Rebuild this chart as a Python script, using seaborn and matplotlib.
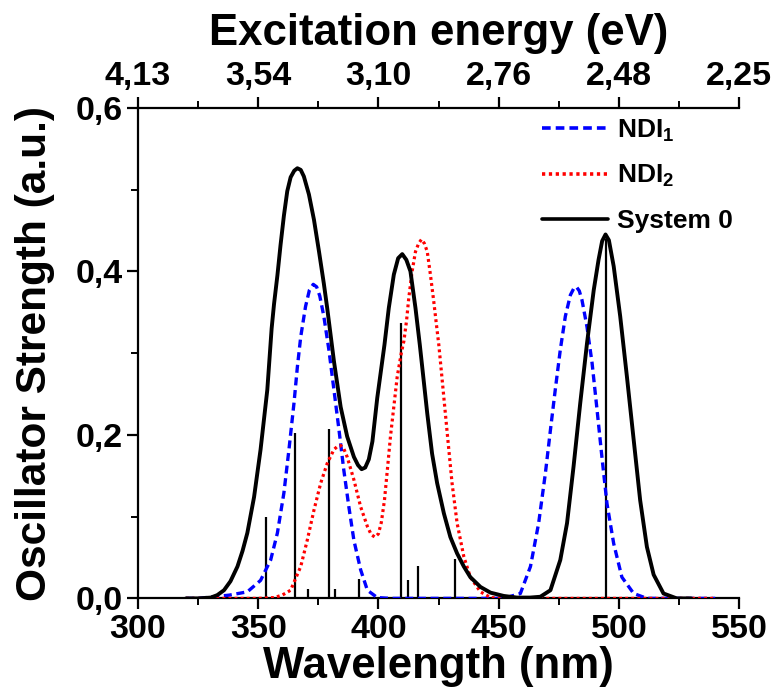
import matplotlib
matplotlib.use("Agg")
import matplotlib.pyplot as plt
import seaborn as sns
import pandas as pd
from matplotlib.ticker import MultipleLocator

# ---------------- data ----------------
sys0_wl = [320, 325, 330.3, 333.0, 335.8, 338.5, 341.4, 343.5, 345.5, 348.3, 351.0,
           353.8, 355.6, 356.6, 358.0, 359.3, 360.7, 362.1, 363.5, 365.0, 366.3,
           367.7, 369.0, 371.1, 373.2, 375.3, 377.3, 378.7, 381.5, 384.3,
           387.0, 389.8, 391.5, 393.0, 394.5, 396.0, 397.5, 399.5, 402.5, 404.3,
           406.4, 408.2, 409.9, 411.6, 413.3, 415.4, 417.2, 418.2, 420.3, 422.3,
           424.4, 427.2, 429.9, 432.7, 435.5, 438.2, 442.4, 446.6, 452.1, 457.6,
           463.0, 467.3, 471.5, 475.6, 478.4, 481.1, 483.9, 486.7, 489.5, 491.5,
           493.0, 494.4, 495.8, 497.8, 500.5, 503.3, 506.1, 508.8, 511.6, 514.4,
           518.5, 524.0, 530.0]
sys0_osc = [0.0, 0.0, 0.001, 0.004, 0.010, 0.021, 0.039, 0.058, 0.080, 0.124, 0.182,
            0.255, 0.330, 0.360, 0.395, 0.432, 0.468, 0.498, 0.515, 0.523, 0.526,
            0.524, 0.516, 0.494, 0.463, 0.424, 0.385, 0.355, 0.290, 0.234,
            0.198, 0.173, 0.163, 0.158, 0.160, 0.170, 0.192, 0.245, 0.310, 0.355,
            0.396, 0.416, 0.421, 0.414, 0.400, 0.355, 0.310, 0.283, 0.226, 0.177,
            0.141, 0.104, 0.075, 0.055, 0.039, 0.026, 0.014, 0.007, 0.003, 0.001,
            0.001, 0.002, 0.010, 0.047, 0.092, 0.161, 0.239, 0.312, 0.377, 0.414,
            0.437, 0.445, 0.438, 0.406, 0.345, 0.271, 0.194, 0.120, 0.063, 0.029,
            0.006, 0.0, 0.0]

ndi1_wl = [320, 325, 331.6, 338.0, 345.5, 351.0, 355.2, 358.0, 360.7, 362.8, 364.9,
           366.3, 367.7, 369.7, 371.3, 372.9, 374.3, 375.6, 377.3, 379.4, 381.5,
           383.6, 385.6, 387.7, 389.8, 392.6, 395.4, 399.5, 405.0, 420.0, 440.0,
           452.0, 459.0, 463.2, 466.6, 469.4, 471.5, 473.5, 475.6, 477.7, 479.8,
           481.2, 482.3, 483.5, 484.6, 486.7, 488.8, 490.9, 492.9, 495.0, 497.8,
           501.2, 506.1, 511.6, 520.0, 540.0]
ndi1_osc = [0.0, 0.0, 0.002, 0.004, 0.008, 0.022, 0.047, 0.080, 0.129, 0.182, 0.239,
            0.283, 0.320, 0.357, 0.377, 0.384, 0.381, 0.370, 0.345, 0.304, 0.255,
            0.206, 0.157, 0.112, 0.071, 0.035, 0.010, 0.001, 0.0, 0.0, 0.0,
            0.0, 0.006, 0.039, 0.092, 0.153, 0.206, 0.255, 0.304, 0.345, 0.371,
            0.379, 0.381, 0.376, 0.365, 0.332, 0.288, 0.230, 0.173, 0.116, 0.067,
            0.026, 0.006, 0.0, 0.0, 0.0]

ndi2_wl = [320, 340, 350, 356.6, 360.0, 363.5, 367.7, 370.4, 373.2, 376.0, 378.7,
           381.5, 383.0, 384.3, 385.6, 387.0, 389.8, 392.6, 395.4, 397.0, 398.5,
           400.0, 401.2, 402.5, 403.8, 405.0, 407.8, 409.5, 410.6, 411.7, 412.6,
           414.0, 415.4, 416.7, 417.9, 419.1, 420.3, 421.6, 423.0, 424.1, 425.1,
           426.5, 428.6, 430.6, 432.7, 435.5, 438.2, 442.4, 446.6, 452.0, 470.0,
           500.0, 540.0]
ndi2_osc = [0.0, 0.0, 0.0, 0.001, 0.004, 0.010, 0.039, 0.071, 0.108, 0.141, 0.165,
            0.182, 0.186, 0.187, 0.183, 0.173, 0.145, 0.112, 0.088, 0.078, 0.075,
            0.079, 0.093, 0.120, 0.160, 0.198, 0.271, 0.300, 0.315, 0.340, 0.367,
            0.400, 0.424, 0.434, 0.439, 0.434, 0.424, 0.396, 0.363, 0.335, 0.310,
            0.267, 0.202, 0.141, 0.092, 0.051, 0.026, 0.008, 0.001, 0.0, 0.0,
            0.0, 0.0]

stick_wl = [353.3, 365.3, 370.6, 379.6, 381.8, 392.1, 409.2, 412.2, 416.3, 431.8, 494.5]
stick_osc = [0.100, 0.202, 0.012, 0.207, 0.011, 0.024, 0.337, 0.022, 0.040, 0.048, 0.440]

x_ticks = [300, 350, 400, 450, 500, 550]
y_ticks = [0.0, 0.2, 0.4, 0.6]
y_tick_labels = ["0,0", "0,2", "0,4", "0,6"]
ev_tick_labels = ["4,13", "3,54", "3,10", "2,76", "2,48", "2,25"]

series_names = ["NDI$_1$", "NDI$_2$", "System 0"]

# ---------------- style ----------------
sns.set_style("ticks")
plt.rcParams["font.family"] = ["Liberation Sans", "DejaVu Sans"]
plt.rcParams["font.weight"] = "bold"
plt.rcParams["mathtext.default"] = "regular"
plt.rcParams["axes.linewidth"] = 1.6
for k in ["text.color", "axes.labelcolor", "xtick.color", "ytick.color", "axes.edgecolor"]:
    plt.rcParams[k] = "black"

fig = plt.figure(figsize=(7.79, 6.95), dpi=100)
fig.patch.set_facecolor("white")
ax = fig.add_axes([0.177, 0.139, 0.772, 0.706])
ax.set_facecolor("white")

df1 = pd.DataFrame({"wl": ndi1_wl, "osc": ndi1_osc})
df2 = pd.DataFrame({"wl": ndi2_wl, "osc": ndi2_osc})
df0 = pd.DataFrame({"wl": sys0_wl, "osc": sys0_osc})

sns.lineplot(data=df1, x="wl", y="osc", ax=ax, color="#0000FF", lw=2.4,
             label=series_names[0], zorder=3)
ax.lines[-1].set_dashes([2.4, 1.4])
sns.lineplot(data=df2, x="wl", y="osc", ax=ax, color="#FF0000", lw=2.3,
             label=series_names[1], zorder=3)
ax.lines[-1].set_dashes([0.9, 1.0])
sns.lineplot(data=df0, x="wl", y="osc", ax=ax, color="black", lw=2.8,
             label=series_names[2], zorder=4)
for ln in ax.lines:
    ln.set_solid_joinstyle("round")
    ln.set_dash_joinstyle("round")

ax.vlines(stick_wl, 0, stick_osc, color="black", lw=1.6, zorder=2)

ax.set_xlim(300, 550)
ax.set_ylim(0, 0.6)
ax.set_xticks(x_ticks)
ax.set_xticklabels([str(t) for t in x_ticks])
ax.xaxis.set_minor_locator(MultipleLocator(25))
ax.set_yticks(y_ticks)
ax.set_yticklabels(y_tick_labels)
ax.yaxis.set_minor_locator(MultipleLocator(0.1))
ax.tick_params(axis="both", which="major", direction="out", length=8, width=1.6,
               labelsize=24.5, pad=3)
ax.tick_params(axis="both", which="minor", direction="out", length=5, width=1.4)
ax.spines["right"].set_visible(False)
ax.spines["top"].set_visible(False)

ax.set_xlabel("Wavelength (nm)", fontsize=31.5, fontweight="bold", labelpad=1)
ax.set_ylabel("Oscillator Strength (a.u.)", fontsize=30.5, fontweight="bold", labelpad=15)

ax2 = ax.twiny()
ax2.set_xlim(ax.get_xlim())
ax2.set_xticks(x_ticks)
ax2.set_xticklabels(ev_tick_labels)
ax2.xaxis.set_minor_locator(MultipleLocator(25))
ax2.tick_params(axis="x", which="major", direction="out", length=8, width=1.6,
                labelsize=24.5, pad=3)
ax2.tick_params(axis="x", which="minor", direction="out", length=5, width=1.4)
for s in ["right", "left", "bottom"]:
    ax2.spines[s].set_visible(False)
ax2.spines["top"].set_visible(True)
ax2.set_xlabel("Excitation energy (eV)", fontsize=31.5, fontweight="bold", labelpad=12)

leg = ax.legend(loc="upper left", bbox_to_anchor=(0.672, 0.98), frameon=False,
                fontsize=19, handlelength=2.5, handletextpad=0.33,
                labelspacing=0.74, borderaxespad=0, borderpad=0)
for t in leg.get_texts():
    t.set_fontweight("bold")
for h in leg.get_lines():
    h.set_linewidth(2.6)

for lab in ax.get_xticklabels() + ax.get_yticklabels() + ax2.get_xticklabels():
    lab.set_fontweight("bold")

fig.savefig("out.png", dpi=100, facecolor="white")
